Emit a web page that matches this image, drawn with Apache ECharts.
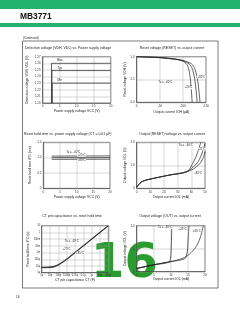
<!DOCTYPE html>
<html>
<head>
<meta charset="utf-8">
<script src="https://cdn.jsdelivr.net/npm/echarts@6/dist/echarts.min.js"></script>
<style>
  html, body { margin: 0; padding: 0; background: #fff; }
  #main { width: 240px; height: 310px; }
</style>
</head>
<body>
<div id="main"></div>
<script>
// 1. Detection voltage vs. power supply voltage
const vddMax = [[2.6, 1.20], [2.6, 1.26], [20, 1.26]]
const vddTyp = [[2.7, 1.20], [2.7, 1.249], [20, 1.249]]
const vddMin = [[2.8, 1.20], [2.8, 1.23], [20, 1.23]]

// 2. Reset voltage vs. output current (uA, magnitude)
const resetHi85 = [[0, 5], [40, 4.92], [72, 4.78], [95, 4.6], [105, 4.35], [111, 3.9], [115, 3.0], [118, 1.5], [120, 0]]
const resetHi25 = [[0, 5], [40, 4.93], [72, 4.8], [95, 4.62], [108, 4.38], [117, 4.0], [123, 3.2], [127, 2.0], [131, 0]]
const resetHiM40 = [[0, 5], [40, 4.94], [72, 4.82], [95, 4.65], [110, 4.42], [121, 4.1], [128, 3.3], [133, 2.0], [137, 0]]

// 3. Reset hold time vs. power supply voltage
const tpoM40 = [[2.5, 1.05], [10, 1.053], [20, 1.056]]
const tpo25 = [[2.5, 1.0], [10, 1.0], [20, 1.002]]
const tpo85 = [[2.5, 0.945], [10, 0.946], [20, 0.948]]

// 4. Output (RESET) voltage vs. output current (mA)
const volM40 = [[0, 0.05], [2.4, 0.22], [4.9, 0.32], [12.2, 0.43], [24.4, 0.58], [36.6, 0.72], [40.2, 1.0], [43.9, 1.45], [46.3, 1.88], [47, 2.0]]
const vol25 = [[0, 0.05], [2.4, 0.22], [4.9, 0.32], [12.2, 0.43], [24.4, 0.58], [36.6, 0.72], [41.5, 0.94], [44.5, 1.12], [47, 1.4], [49, 1.75], [50, 1.95]]
const vol85 = [[0, 0.05], [2.4, 0.22], [4.9, 0.32], [12.2, 0.43], [24.4, 0.58], [36.6, 0.72], [41.5, 0.84], [44, 0.95], [46.3, 1.08], [48.5, 1.3], [50, 1.59]]

// 5. CT pin capacitance (F) vs. reset hold time (s)
const ctM40 = [[1e-12, 5.5e-6], [1e-11, 5.8e-6], [3e-11, 7e-6], [1e-10, 1.3e-5], [3e-10, 3.1e-5], [1e-9, 9e-5], [1e-8, 9e-4], [1e-7, 9e-3], [1e-6, 0.09], [1e-5, 0.9], [1e-4, 9]]
const ct25 = [[1e-12, 6e-6], [1e-11, 6.5e-6], [3e-11, 8e-6], [1e-10, 1.5e-5], [3e-10, 3.5e-5], [1e-9, 1e-4], [1e-8, 1e-3], [1e-7, 1e-2], [1e-6, 0.1], [1e-5, 1], [1e-4, 10]]
const ct85 = [[1e-12, 6.5e-6], [1e-11, 7.2e-6], [3e-11, 9e-6], [1e-10, 1.7e-5], [3e-10, 4e-5], [1e-9, 1.12e-4], [1e-8, 1.12e-3], [1e-7, 1.12e-2], [1e-6, 0.112], [1e-5, 1.12], [1e-4, 11.2]]
const ctLabels = ['1p', '10p', '100p', '1000p', '0.01μ', '0.1μ', '1μ', '10μ', '100μ']
const tpoLabels = ['1μ', '10μ', '100μ', '1m', '10m', '100m', '1', '10']

// 6. Output voltage (OUT) vs. output current (mA)
const outM40 = [[0, 0.07], [5, 0.15], [9.5, 0.21], [9.9, 0.3], [10.1, 0.5], [10.2, 0.75], [10.3, 1.0]]
const out25 = [[0, 0.07], [5, 0.15], [10, 0.22], [14, 0.28], [14.6, 0.36], [14.9, 0.5], [15.1, 0.75], [15.3, 1.0]]
const out85 = [[0, 0.07], [5, 0.15], [10, 0.22], [11.7, 0.25], [14, 0.31], [16, 0.42], [17.5, 0.56], [18.5, 0.72], [19.2, 0.9], [19.5, 1.0]]

const FONT = 'Liberation Sans'
const INK = '#222'
const GREEN = '#22b36e'

const chart = echarts.init(document.getElementById('main'))

const grids = [
  { left: 42.7, top: 56.7, width: 68, height: 46.3 },
  { left: 136.7, top: 56.7, width: 69.3, height: 45.6 },
  { left: 43.3, top: 142.3, width: 66.7, height: 46 },
  { left: 136.7, top: 142.3, width: 68.3, height: 46 },
  { left: 41.7, top: 225.7, width: 66.6, height: 47 },
  { left: 136.7, top: 225.7, width: 68.3, height: 46 }
].map(g => Object.assign({ show: true, borderColor: '#444', borderWidth: 0.6, backgroundColor: '#fff' }, g))

function axis(idx, opt, name, gap, vertical) {
  return Object.assign({
    gridIndex: idx,
    type: 'value',
    name: name,
    nameLocation: 'middle',
    nameGap: gap,
    nameRotate: vertical ? 90 : 0,
    nameTextStyle: { fontSize: 3.4, fontFamily: FONT, color: INK },
    axisLine: { show: true, lineStyle: { color: '#444', width: 0.6 } },
    axisTick: { show: false },
    axisLabel: { fontSize: 3, fontFamily: FONT, color: '#333', margin: 2 },
    splitLine: { show: true, lineStyle: { color: '#999', width: 0.4 } }
  }, opt)
}

const one = v => (v === 0 ? '0' : v.toFixed(1))
const logIdx = (v, base) => Math.round(Math.log10(v)) - base

const xAxes = [
  axis(0, { min: 0, max: 20, interval: 5 }, 'Power supply voltage VCC (V)', 7),
  axis(1, { min: 0, max: 150, interval: 50, axisLabel: { fontSize: 3, fontFamily: FONT, color: '#333', margin: 2, formatter: v => (v === 0 ? '0' : '-' + v) } }, 'Output current IOH (μA)', 8),
  axis(2, { min: 0, max: 20, interval: 5 }, 'Power supply voltage VCC (V)', 7.5),
  axis(3, { min: 0, max: 50, interval: 10 }, 'Output current IOL (mA)', 7),
  axis(4, { type: 'log', logBase: 10, min: 1e-12, max: 1e-4, axisLabel: { fontSize: 2.6, fontFamily: FONT, color: '#333', margin: 1.5, formatter: v => ctLabels[logIdx(v, -12)] } }, 'CT pin capacitance CT (F)', 5),
  axis(5, { min: 0, max: 20, interval: 5 }, 'Output current IOL (mA)', 6)
]

const yAxes = [
  axis(0, { min: 1.20, max: 1.27, interval: 0.01, axisLabel: { fontSize: 3, fontFamily: FONT, color: '#333', margin: 2, formatter: v => v.toFixed(2) } }, 'Detection voltage VDH, VDL (V)', 14, true),
  axis(1, { min: 0, max: 5, interval: 2.5, axisLabel: { fontSize: 3, fontFamily: FONT, color: '#333', margin: 2, formatter: v => v.toFixed(1) } }, 'Reset voltage VOH (V)', 9, true),
  axis(2, { min: 0, max: 1.5, interval: 0.5, axisLabel: { fontSize: 3, fontFamily: FONT, color: '#333', margin: 2, formatter: one } }, 'Reset hold time tPO (ms)', 12, true),
  axis(3, { min: 0, max: 2, interval: 1, axisLabel: { fontSize: 3, fontFamily: FONT, color: '#333', margin: 2, formatter: one } }, 'Output voltage VOL (V)', 9, true),
  axis(4, { type: 'log', logBase: 10, min: 1e-6, max: 10, axisLabel: { fontSize: 2.6, fontFamily: FONT, color: '#333', margin: 1.5, formatter: v => tpoLabels[logIdx(v, -6)] } }, 'Reset hold time tPO (s)', 11, true),
  axis(5, { min: 0, max: 1, interval: 0.5, axisLabel: { fontSize: 3, fontFamily: FONT, color: '#333', margin: 2, formatter: one } }, 'Output voltage VOL (V)', 9, true)
]

function curve(idx, data, smooth, marks) {
  const s = {
    type: 'line',
    xAxisIndex: idx,
    yAxisIndex: idx,
    data: data,
    smooth: smooth,
    symbol: 'none',
    silent: true,
    animation: false,
    lineStyle: { color: INK, width: 0.7 }
  }
  if (marks) {
    s.markPoint = {
      symbol: 'circle',
      symbolSize: 0,
      silent: true,
      data: marks.map(m => ({
        coord: m[0],
        label: {
          show: true,
          formatter: m[1],
          fontSize: 2.8,
          fontFamily: FONT,
          color: INK,
          backgroundColor: '#fff',
          padding: [0, 0.5]
        }
      }))
    }
  }
  return s
}

const series = [
  curve(0, vddMax, false, [[[5, 1.264], 'Max']]),
  curve(0, vddTyp, false, [[[5, 1.253], 'Typ']]),
  curve(0, vddMin, false, [[[5, 1.234], 'Min']]),

  curve(1, resetHi85, 0.4, [[[112, 1.6], '+25°C']]),
  curve(1, resetHi25, 0.4, [[[62, 2.2], 'Ta = −40°C']]),
  curve(1, resetHiM40, 0.4, [[[140, 2.8], '+85°C']]),

  curve(2, tpoM40, false, [[[9, 1.19], 'Ta = −40°C']]),
  curve(2, tpo25, false, [[[11.5, 1.08], '+25°C']]),
  curve(2, tpo85, false, [[[11.5, 0.9], '+85°C']]),

  curve(3, volM40, 0.4, [[[36, 1.88], 'Ta = −40°C']]),
  curve(3, vol25, 0.4, [[[47.5, 1.72], '+25°C']]),
  curve(3, vol85, 0.4, [[[45, 0.64], '+85°C']]),

  curve(4, ctM40, 0.3, [[[4e-9, 0.045], 'Ta = −40°C']]),
  curve(4, ct25, 0.3, [[[1e-9, 3e-3], '+25°C']]),
  curve(4, ct85, 0.3, [[[4e-8, 8e-4], '+85°C']]),

  curve(5, outM40, 0.4, [[[8.3, 0.965], 'Ta = −40°C']]),
  curve(5, out25, 0.4, [[[13.4, 0.92], '+25°C']]),
  curve(5, out85, 0.4, [[[17.6, 0.89], '+85°C']])
]

function txt(x, y, text, size, align, extra) {
  return {
    type: 'text',
    x: x,
    y: y,
    silent: true,
    style: Object.assign({
      text: text,
      fontSize: size,
      fontFamily: FONT,
      fill: INK,
      align: align || 'left',
      verticalAlign: 'middle'
    }, extra || {})
  }
}

const graphic = [
  // page header
  { type: 'rect', shape: { x: 0, y: 0, width: 240, height: 9 }, style: { fill: GREEN }, silent: true },
  { type: 'rect', shape: { x: 0, y: 23, width: 240, height: 4 }, style: { fill: GREEN }, silent: true },
  txt(20, 16.3, 'MB3771', 8.4, 'left', { fontWeight: 'bold', fill: '#111' }),
  txt(23, 38.5, '(Continued)', 3, 'left'),
  // frame round the graphs
  { type: 'rect', z: -1, shape: { x: 22.5, y: 41, width: 195.5, height: 247 }, style: { fill: 'none', stroke: '#444', lineWidth: 0.7 }, silent: true },
  // graph titles
  txt(25, 48, 'Detection voltage (VDH, VDL) vs. Power supply voltage', 3.5, 'left'),
  txt(172, 48, 'Reset voltage (RESET) vs. output current', 3.5, 'center'),
  txt(24, 134.5, 'Reset hold time vs. power supply voltage (CT = 0.01 μF)', 3.5, 'left'),
  txt(172, 134.5, 'Output (RESET) voltage vs. output current', 3.5, 'center'),
  txt(72, 215.7, 'CT pin capacitance vs. reset hold time', 3.5, 'center'),
  txt(170, 215.7, 'Output voltage (OUT) vs. output current', 3.5, 'center'),
  // page number
  txt(16, 297, '16', 3.2, 'left'),
  // big green page stamp
  txt(91, 265, '16', 48, 'left', { fontWeight: 'bold', fill: '#2a9c2f', fontFamily: 'DejaVu Sans' })
]

chart.setOption({
  animation: false,
  backgroundColor: '#fff',
  grid: grids,
  xAxis: xAxes,
  yAxis: yAxes,
  series: series,
  graphic: graphic
})
</script>
</body>
</html>
